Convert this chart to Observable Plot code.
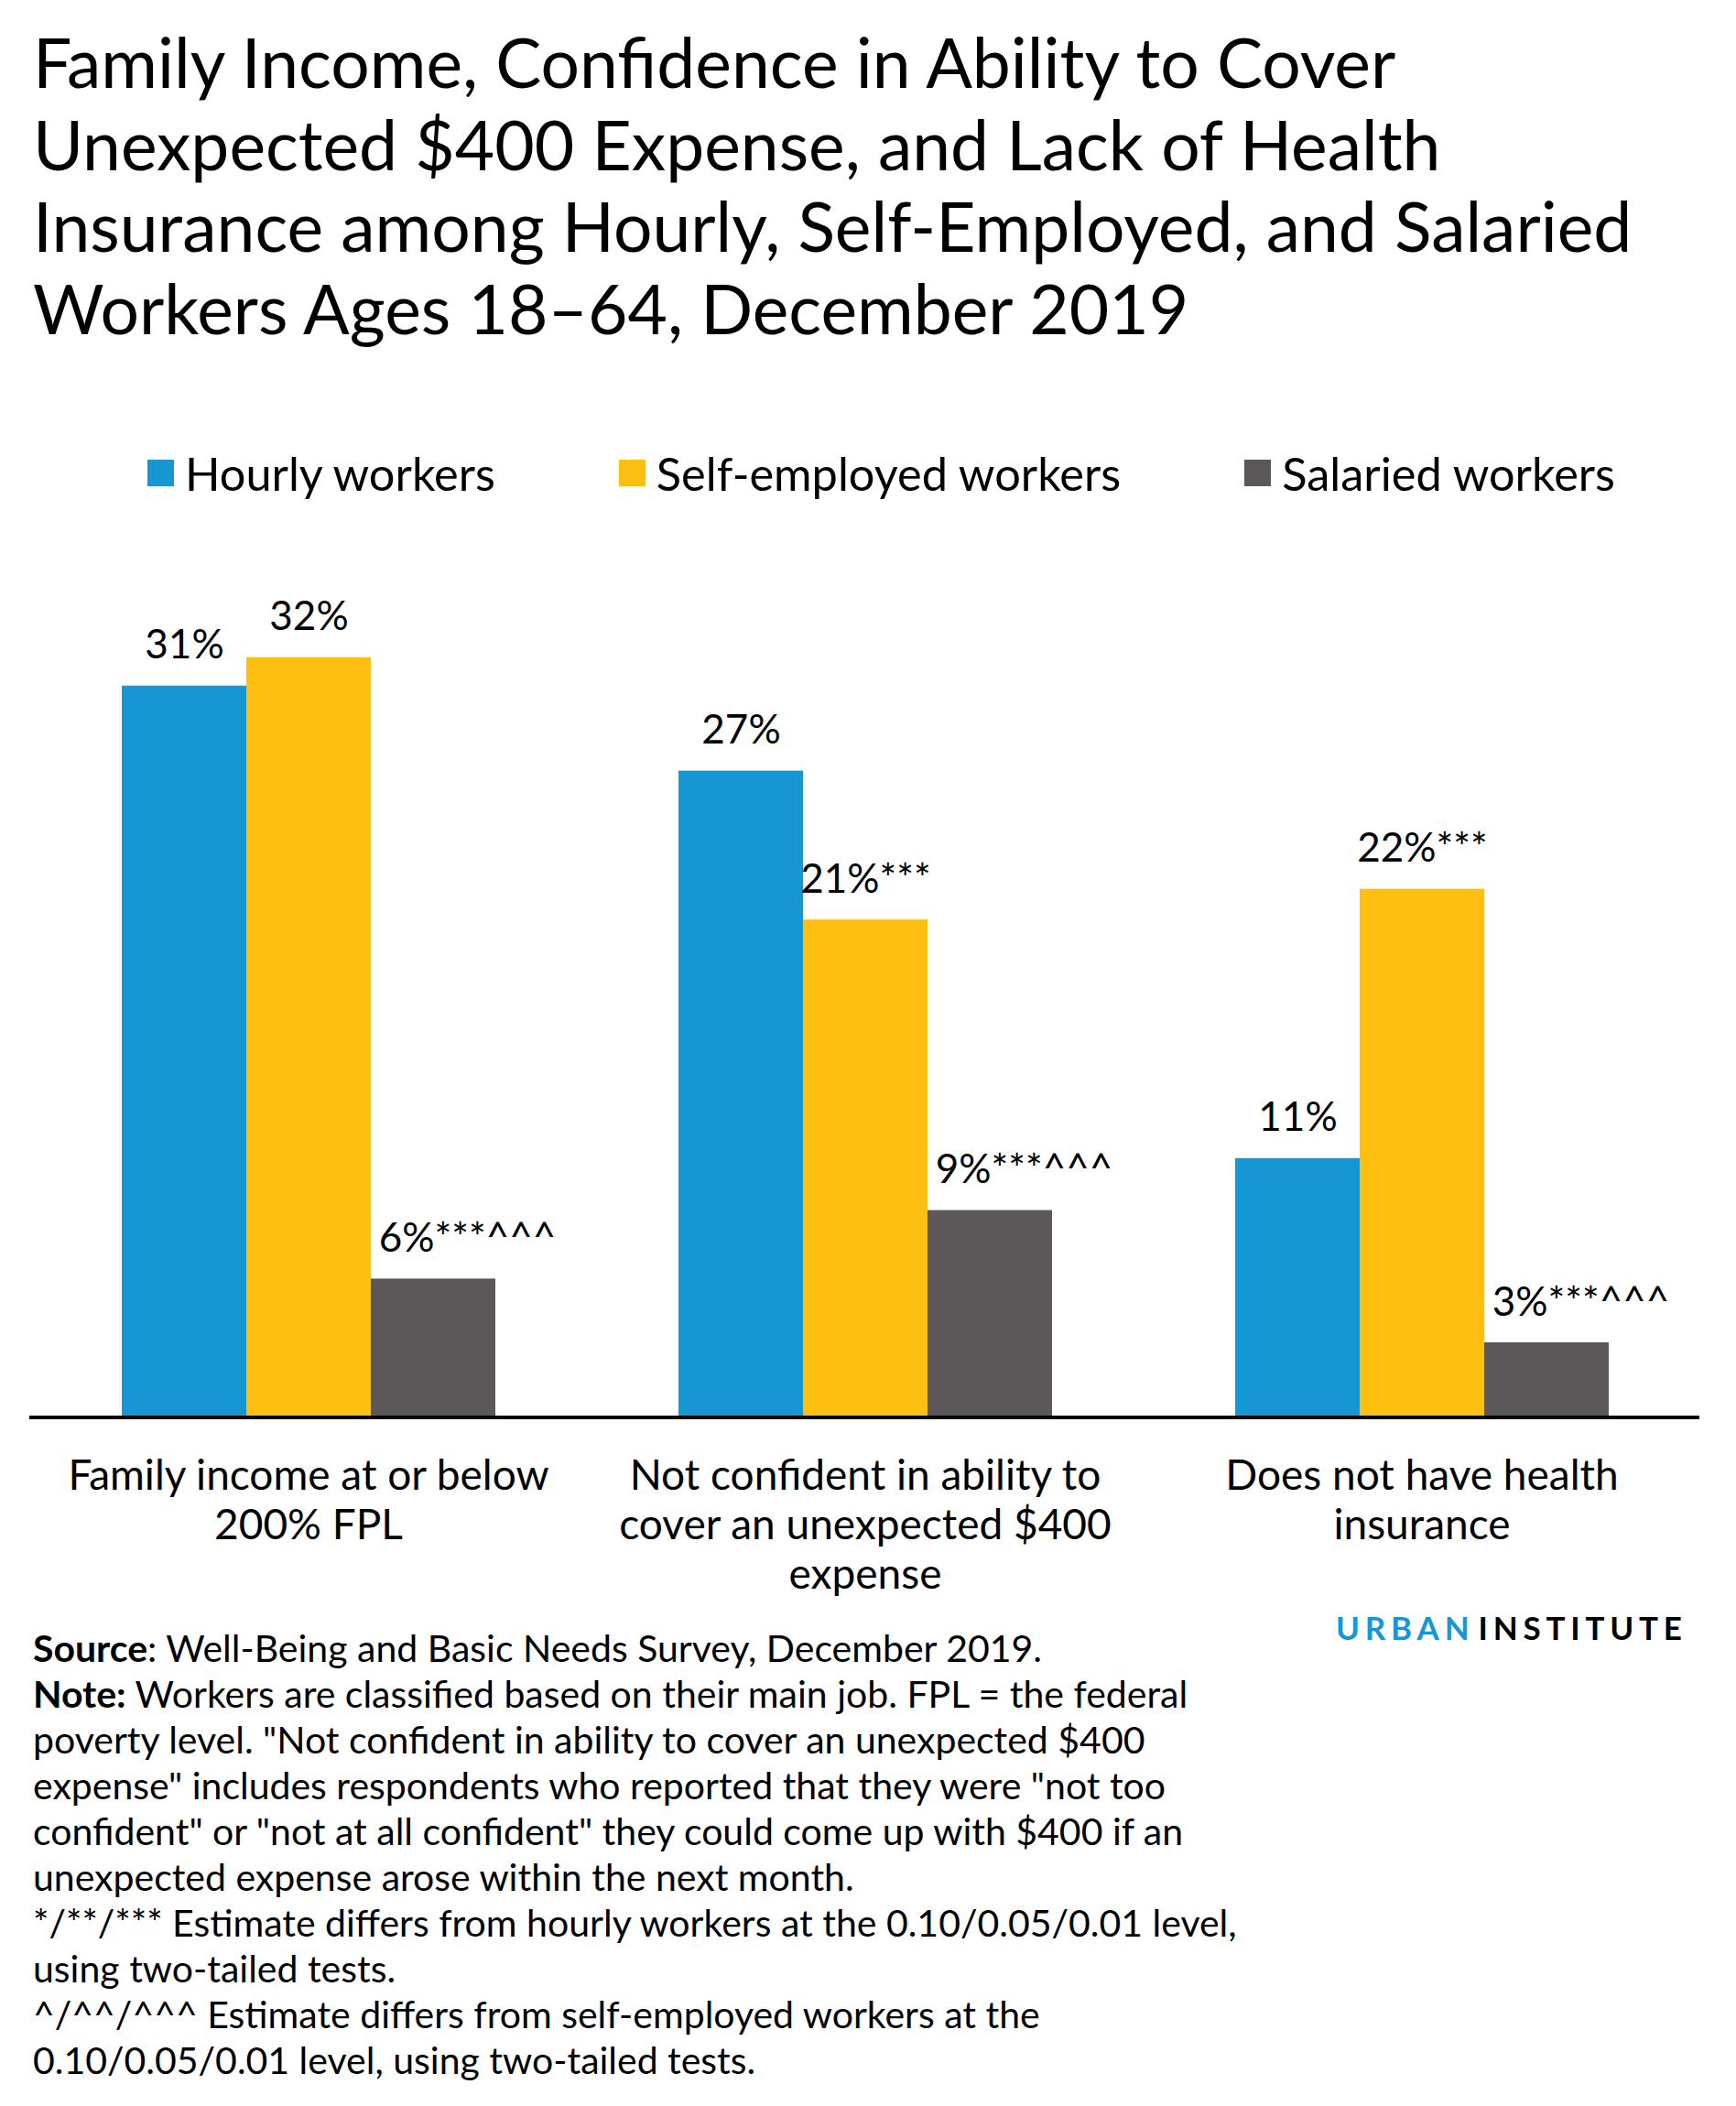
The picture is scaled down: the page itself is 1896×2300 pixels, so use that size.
<!DOCTYPE html>
<html>
<head>
<meta charset="utf-8">
<script src="https://cdn.jsdelivr.net/npm/d3@7"></script>
<script src="https://cdn.jsdelivr.net/npm/@observablehq/plot@0.6"></script>
<style>
  html, body { margin: 0; padding: 0; background: #fff; }
  body { width: 1896px; height: 2300px; position: relative; font-family: Lato, "Open Sans", sans-serif; color: #000; overflow: hidden; }
  #title { position: absolute; left: 36px; top: 23px; font-size: 75px; line-height: 89.7px; font-weight: 400; white-space: nowrap; }
  #legend { position: absolute; left: 161px; top: 486px; height: 60px; display: flex; align-items: center; gap: 135px; font-size: 50.5px; white-space: nowrap; }
  .item { display: flex; align-items: center; }
  .sw { width: 29px; height: 29px; margin-right: 12px; }
  #chart { position: absolute; left: 0; top: 600px; }
  #notes { position: absolute; left: 36px; top: 1775px; font-size: 41px; line-height: 50px; white-space: nowrap; }
  #logo { position: absolute; left: 1459px; top: 1752px; font-size: 35px; font-weight: 700; letter-spacing: 0.166em; white-space: nowrap; line-height: 50px; }
</style>
</head>
<body>
<div id="title">Family Income, Confidence in Ability to Cover<br>Unexpected $400 Expense, and Lack of Health<br>Insurance among Hourly, Self-Employed, and Salaried<br>Workers Ages 18–64, December 2019</div>
<div id="legend"></div>
<div id="chart"></div>
<div id="logo"><span style="color:#1696d2">URBAN</span><span style="margin-left:4px">INSTITUTE</span></div>
<div id="notes"><b>Source</b>: Well-Being and Basic Needs Survey, December 2019.<br><b>Note:</b> Workers are classified based on their main job. FPL = the federal<br>poverty level. "Not confident in ability to cover an unexpected $400<br>expense" includes respondents who reported that they were "not too<br>confident" or "not at all confident" they could come up with $400 if an<br>unexpected expense arose within the next month.<br>*/**/*** Estimate differs from hourly workers at the 0.10/0.05/0.01 level,<br>using two-tailed tests.<br>^/^^/^^^ Estimate differs from self-employed workers at the<br>0.10/0.05/0.01 level, using two-tailed tests.</div>
<script>
const categories = [
  "Family income at or below 200% FPL",
  "Not confident in ability to cover an unexpected $400 expense",
  "Does not have health insurance"
];
const categoryLabels = [
  "Family income at or below\n200% FPL",
  "Not confident in ability to\ncover an unexpected $400\nexpense",
  "Does not have health\ninsurance"
];
const seriesNames = ["Hourly workers", "Self-employed workers", "Salaried workers"];
const seriesColors = ["#1696d2", "#fdbf11", "#5c5859"];

const hourly = [30.9, 27.3, 10.9];
const selfEmployed = [32.1, 21.0, 22.3];
const salaried = [5.8, 8.7, 3.1];

const hourlyLabels = ["31%", "27%", "11%"];
const selfEmployedLabels = ["32%", "21%***", "22%***"];
const salariedLabels = ["6%***^^^", "9%***^^^", "3%***^^^"];

const seriesValues = [hourly, selfEmployed, salaried];
const seriesLabels = [hourlyLabels, selfEmployedLabels, salariedLabels];

const data = [];
categories.forEach((c, i) => {
  seriesNames.forEach((s, j) => {
    data.push({category: c, series: s, value: seriesValues[j][i], label: seriesLabels[j][i]});
  });
});

// Legend
const legend = document.getElementById("legend");
seriesNames.forEach((s, j) => {
  const it = document.createElement("div");
  it.className = "item";
  const sw = document.createElement("div");
  sw.className = "sw";
  sw.style.background = seriesColors[j];
  const tx = document.createElement("span");
  tx.textContent = s;
  it.appendChild(sw); it.appendChild(tx);
  legend.appendChild(it);
});

const W = 1896, H = 1176;
const chart = Plot.plot({
  width: W,
  height: H,
  marginLeft: 32,
  marginRight: 40,
  marginTop: 43,
  marginBottom: 230,
  style: {fontFamily: "Lato, 'Open Sans', sans-serif", color: "#000", background: "transparent"},
  fx: {domain: categories, paddingInner: 0.328, paddingOuter: 0.164, label: null},
  x: {domain: seriesNames, padding: 0, axis: null},
  y: {domain: [0, 35], axis: null},
  color: {domain: seriesNames, range: seriesColors},
  marks: [
    Plot.barY(data, {fx: "category", x: "series", y: "value", fill: "series"}),
    Plot.text(data.filter(d => d.series !== "Salaried workers"), {
      fx: "category", x: "series", y: "value", text: "label",
      lineAnchor: "bottom", dy: -30, fontSize: 44, fill: "#000"
    }),
    Plot.text(data.filter(d => d.series === "Salaried workers"), {
      fx: "category", x: "series", y: "value", text: "label",
      lineAnchor: "bottom", dy: -30, dx: 37, fontSize: 44, fill: "#000"
    }),
    Plot.axisFx({
      anchor: "bottom", tickSize: 0, tickPadding: 42, fontSize: 46, lineHeight: 54 / 46,
      tickFormat: d => categoryLabels[categories.indexOf(d)], label: null, fill: "#000"
    })
  ]
});
document.getElementById("chart").appendChild(chart);

// Baseline spanning the whole plot width, placed with the y scale
const y0 = chart.scale("y").apply(0);
d3.select(chart).append("line")
  .attr("x1", 32).attr("x2", W - 40)
  .attr("y1", y0 + 2).attr("y2", y0 + 2)
  .attr("stroke", "#000").attr("stroke-width", 4);
</script>
</body>
</html>
